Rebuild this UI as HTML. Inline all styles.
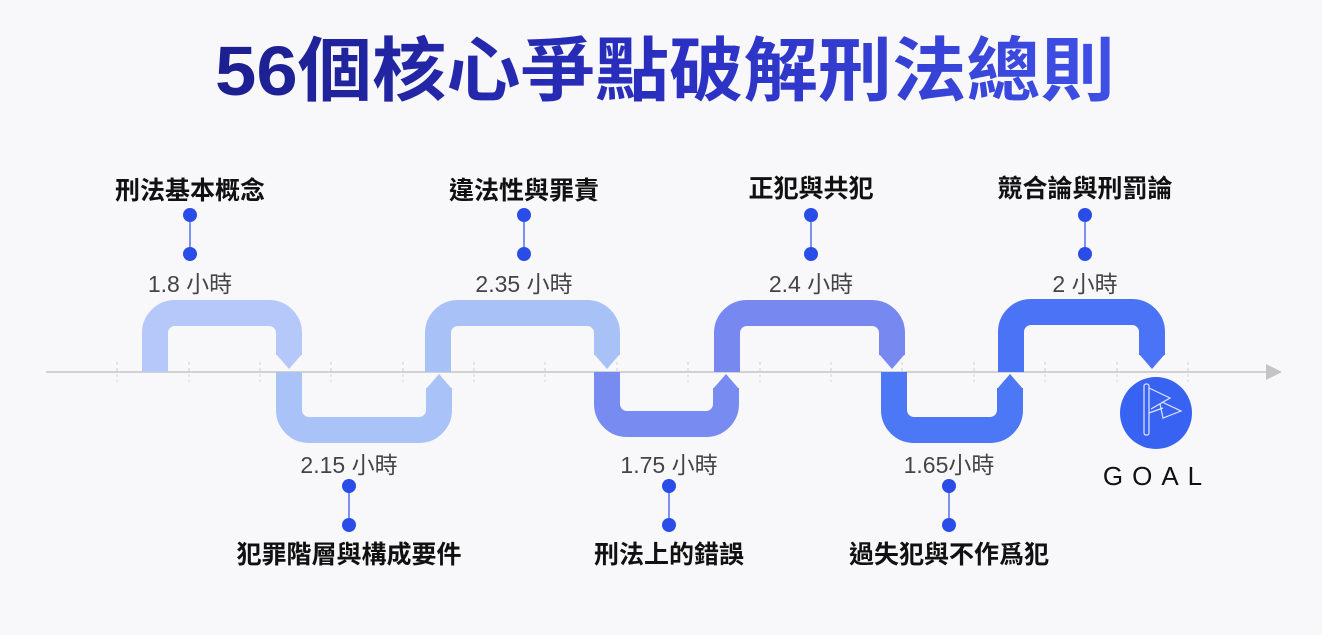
<!DOCTYPE html>
<html><head><meta charset="utf-8"><style>
html,body{margin:0;padding:0;background:#f8f8fa;}
svg{display:block;font-family:"Liberation Sans","Noto Sans CJK TC",sans-serif;}
</style></head><body>
<svg width="1322" height="635" viewBox="0 0 1322 635" xmlns="http://www.w3.org/2000/svg">
<defs>
<linearGradient id="tg" x1="0" x2="1" y1="0" y2="0">
<stop offset="0" stop-color="#1c1f8f"/><stop offset="0.5" stop-color="#2a2fc0"/><stop offset="1" stop-color="#3f50e6"/>
</linearGradient>
</defs>
<rect width="1322" height="635" fill="#f8f8fa"/>
<text x="215" y="95" font-size="70" font-weight="bold" fill="url(#tg)" textLength="900" lengthAdjust="spacingAndGlyphs">56個核心爭點破解刑法總則</text>

<line x1="46" y1="372" x2="1268" y2="372" stroke="#c4c4c4" stroke-width="1.5"/>
<polygon points="1266,364 1282,372 1266,380" fill="#c4c4c4"/>
<g stroke="#cfcfcf" stroke-width="1" stroke-dasharray="3,3">
<line x1="117" y1="362" x2="117" y2="382"/><line x1="189" y1="362" x2="189" y2="382"/>
<line x1="260" y1="362" x2="260" y2="382"/><line x1="331" y1="362" x2="331" y2="382"/>
<line x1="403" y1="362" x2="403" y2="382"/><line x1="474" y1="362" x2="474" y2="382"/>
<line x1="545" y1="362" x2="545" y2="382"/><line x1="617" y1="362" x2="617" y2="382"/>
<line x1="688" y1="362" x2="688" y2="382"/><line x1="760" y1="362" x2="760" y2="382"/>
<line x1="831" y1="362" x2="831" y2="382"/><line x1="902" y1="362" x2="902" y2="382"/>
<line x1="974" y1="362" x2="974" y2="382"/><line x1="1045" y1="362" x2="1045" y2="382"/>
<line x1="1117" y1="362" x2="1117" y2="382"/><line x1="1188" y1="362" x2="1188" y2="382"/>
</g>

<g fill="none" stroke-width="26">
<path d="M155 372 V333 A20 20 0 0 1 175 313 H269 A20 20 0 0 1 289 333 V355" stroke="#b6c8fa"/>
<path d="M289 372 V410 A20 20 0 0 0 309 430 H419 A20 20 0 0 0 439 410 V388" stroke="#a9c3f9"/>
<path d="M438 372 V333 A20 20 0 0 1 458 313 H587 A20 20 0 0 1 607 333 V355" stroke="#a8c2f8"/>
<path d="M607 372 V404 A20 20 0 0 0 627 424 H706 A20 20 0 0 0 726 404 V388" stroke="#778bf0"/>
<path d="M727 372 V333 A20 20 0 0 1 747 313 H872 A20 20 0 0 1 892 333 V355" stroke="#7789f0"/>
<path d="M894 372 V410 A20 20 0 0 0 914 430 H990 A20 20 0 0 0 1010 410 V388" stroke="#4d78f5"/>
<path d="M1011 372 V332 A20 20 0 0 1 1031 312 H1132 A20 20 0 0 1 1152 332 V355" stroke="#4a74f5"/>
</g>
<polygon points="276,354 302,354 289,369" fill="#b6c8fa"/>
<polygon points="426,389 452,389 439,374" fill="#a9c3f9"/>
<polygon points="594,354 620,354 607,369" fill="#a8c2f8"/>
<polygon points="713,389 739,389 726,374" fill="#778bf0"/>
<polygon points="879,354 905,354 892,369" fill="#7789f0"/>
<polygon points="997,389 1023,389 1010,374" fill="#4d78f5"/>
<polygon points="1139,354 1165,354 1152,369" fill="#4a74f5"/>

<circle cx="1156" cy="413" r="36" fill="#3862f2"/>
<g fill="none" stroke="#dfe6ff" stroke-width="1.2">
<rect x="1144" y="384" width="5" height="51" rx="2"/>
<polyline points="1149,388 1170,398 1151,409"/>
<polyline points="1162,402 1181,411 1163,418 1160,404"/>
<line x1="1149" y1="413" x2="1163" y2="408"/>
</g>
<text x="1157" y="485" font-size="26" fill="#111" text-anchor="middle" letter-spacing="9">GOAL</text>

<g stroke="#2a4de8" stroke-width="1.2">
<line x1="190" y1="215" x2="190" y2="254"/><line x1="524" y1="215" x2="524" y2="254"/>
<line x1="811" y1="215" x2="811" y2="254"/><line x1="1085" y1="215" x2="1085" y2="254"/>
<line x1="349" y1="486" x2="349" y2="525"/><line x1="669" y1="486" x2="669" y2="525"/>
<line x1="949" y1="486" x2="949" y2="525"/>
</g>
<g fill="#2a4de8">
<circle cx="190" cy="215" r="7"/><circle cx="190" cy="254" r="7"/>
<circle cx="524" cy="215" r="7"/><circle cx="524" cy="254" r="7"/>
<circle cx="811" cy="215" r="7"/><circle cx="811" cy="254" r="7"/>
<circle cx="1085" cy="215" r="7"/><circle cx="1085" cy="254" r="7"/>
<circle cx="349" cy="486" r="7"/><circle cx="349" cy="525" r="7"/>
<circle cx="669" cy="486" r="7"/><circle cx="669" cy="525" r="7"/>
<circle cx="949" cy="486" r="7"/><circle cx="949" cy="525" r="7"/>
</g>

<g font-size="25" font-weight="bold" fill="#111" text-anchor="middle">
<text x="190" y="199">刑法基本概念</text>
<text x="524" y="199">違法性與罪責</text>
<text x="811" y="197">正犯與共犯</text>
<text x="1085" y="197">競合論與刑罰論</text>
<text x="349" y="563">犯罪階層與構成要件</text>
<text x="669" y="563">刑法上的錯誤</text>
<text x="949" y="563">過失犯與不作爲犯</text>
</g>
<g font-size="23" fill="#444" text-anchor="middle">
<text x="190" y="292">1.8 小時</text>
<text x="524" y="292">2.35 小時</text>
<text x="811" y="292">2.4 小時</text>
<text x="1085" y="292">2 小時</text>
<text x="349" y="473">2.15 小時</text>
<text x="669" y="473">1.75 小時</text>
<text x="949" y="473">1.65小時</text>
</g>
</svg>
</body></html>
